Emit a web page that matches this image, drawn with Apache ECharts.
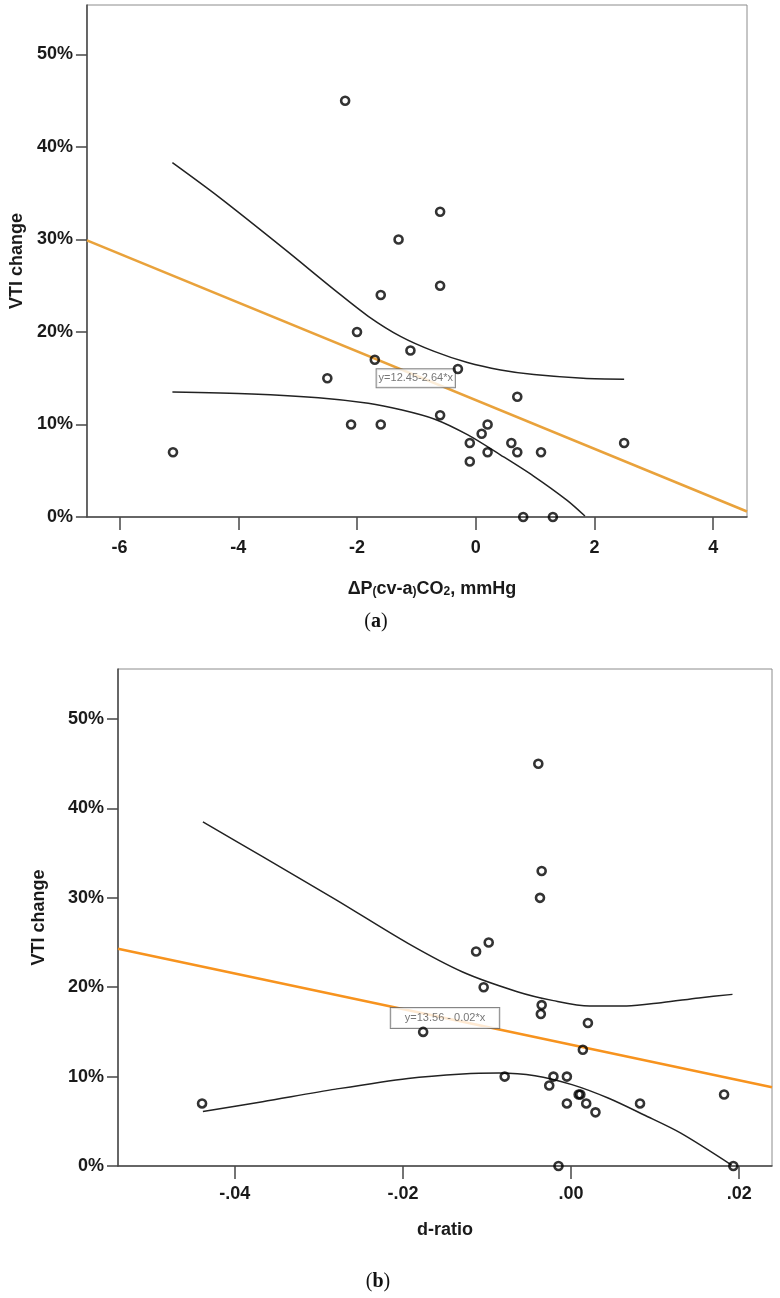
<!DOCTYPE html>
<html>
<head>
<meta charset="utf-8">
<script src="https://cdn.jsdelivr.net/npm/echarts@6/dist/echarts.min.js"></script>
<style>
html,body{margin:0;padding:0;background:#fff;}
#main{width:780px;height:1298px;}
</style>
</head>
<body>
<div id="main"></div>
<script>
// (a) 散点
var xA=[-2.2,-1.3,-1.6,-0.6,-0.6,-2.0,-1.7,-2.5,-2.1,-1.6,-5.1,-1.1,-0.3,0.7,-0.6,0.2,0.1,-0.1,0.6,0.2,0.7,1.1,-0.1,2.5,0.8,1.3];
var yA=[45,30,24,33,25,20,17,15,10,10,7,18,16,13,11,10,9,8,8,7,7,7,6,8,0,0];
// (a) 拟合线 + 置信带
var fitXA=[-6.55,4.57];
var fitYA=[29.9,0.6];
var upXA=[-5.11,-4.33,-3.21,-2.37,-1.81,-1.26,-0.70,-0.14,0.42,0.98,1.81,2.50];
var upYA=[38.3,34.6,28.9,24.5,21.7,19.5,17.9,16.7,15.9,15.4,15.0,14.9];
var loXA=[-5.11,-3.77,-2.65,-1.81,-1.26,-0.70,-0.14,0.42,0.98,1.54,1.84];
var loYA=[13.5,13.3,12.9,12.3,11.6,10.6,8.9,6.7,4.4,1.8,0.1];

// (b) 散点
var xB=[-0.0039,-0.0035,-0.0037,-0.0113,-0.0098,-0.0104,-0.0035,-0.0036,0.0020,-0.0176,0.0014,-0.0079,-0.0021,-0.0005,-0.0026,0.0009,0.0011,-0.0005,0.0018,0.0029,0.0082,0.0182,-0.0015,0.0193,-0.0439];
var yB=[45,33,30,24,25,20,18,17,16,15,13,10,10,10,9,8,8,7,7,6,7,8,0,0,7];
// (b) 拟合线 + 置信带
var fitXB=[-0.0539,0.0239];
var fitYB=[24.3,8.8];
var upXB=[-0.0438,-0.0367,-0.0280,-0.0194,-0.0129,-0.0064,-0.0021,0.0022,0.0066,0.0109,0.0152,0.0192];
var upYB=[38.5,34.6,29.8,24.9,21.7,19.5,18.5,17.9,17.9,18.3,18.8,19.2];
var loXB=[-0.0438,-0.0367,-0.0280,-0.0194,-0.0129,-0.0086,-0.0043,0.0001,0.0044,0.0087,0.0130,0.0191];
var loYB=[6.1,7.2,8.6,9.8,10.3,10.4,10.1,9.1,7.6,5.7,3.7,0.1];

// 刻度
var xTicksA=[-6,-4,-2,0,2,4];
var xTicksB=[-0.04,-0.02,0,0.02];
var yTicks=[0,10,20,30,40,50];

// 公式标签
var eqA={text:'y=12.45-2.64*x',x:-1.01,y:15.0};
var eqB={text:'y=13.56 - 0.02*x',x:-0.0150,y:16.55};

function zip(xs,ys){
	var out=[];
	for(var i=0;i<xs.length;i++){
		out.push([xs[i],ys[i]]);
	}
	return out;
}

var FONT='"Liberation Sans", Arial, sans-serif';
var AXIS_COLOR='#474747';

function yAxisCfg(idx,max,gap){
	return {
		gridIndex:idx,type:'value',min:0,max:max,
		name:'VTI change',nameLocation:'middle',nameGap:gap,nameRotate:90,
		nameTextStyle:{fontFamily:FONT,fontSize:18,fontWeight:'bold',color:'#1a1a1a'},
		splitLine:{show:false},
		axisLine:{show:true,onZero:false,lineStyle:{color:AXIS_COLOR,width:1.5}},
		axisTick:{show:true,customValues:yTicks,length:11,lineStyle:{color:AXIS_COLOR,width:1.5}},
		axisLabel:{customValues:yTicks,margin:14,fontFamily:FONT,fontSize:18,fontWeight:'bold',color:'#1a1a1a',
			padding:[5,0,0,0],
			formatter:function(v){return v+'%';}}
	};
}

function dotSeries(xi,data){
	return {
		type:'scatter',xAxisIndex:xi,yAxisIndex:xi,data:data,
		symbol:'circle',symbolSize:8,clip:false,z:5,
		itemStyle:{color:'rgba(255,255,255,0)',borderColor:'#000',borderWidth:2.6}
	};
}
function curveSeries(xi,data){
	return {
		type:'line',xAxisIndex:xi,yAxisIndex:xi,data:data,smooth:0.3,
		showSymbol:false,symbol:'none',z:3,
		lineStyle:{color:'#222',width:1.5}
	};
}
function fitSeries(xi,data,color){
	return {
		type:'line',xAxisIndex:xi,yAxisIndex:xi,data:data,
		showSymbol:false,symbol:'none',z:2,
		lineStyle:{color:color,width:2.6}
	};
}
function eqSeries(xi,eq,pad){
	return {
		type:'scatter',xAxisIndex:xi,yAxisIndex:xi,data:[[eq.x,eq.y]],
		symbolSize:0,z:4,silent:true,
		label:{show:true,position:'inside',formatter:eq.text,
			fontFamily:FONT,fontSize:11,color:'#555',
			backgroundColor:'#fff',borderColor:'#666',borderWidth:1,padding:pad}
	};
}

var myChart=echarts.init(document.getElementById('main'),null,{renderer:'canvas'});
var option={
	animation:false,
	backgroundColor:'#fff',
	grid:[
		{left:83,top:5,width:664,height:512,show:true,borderColor:'#8c8c8c',borderWidth:1,backgroundColor:'#fff'},
		{left:118,top:669,width:654,height:497,show:true,borderColor:'#8c8c8c',borderWidth:1,backgroundColor:'#fff'}
	],
	xAxis:[
		{
			gridIndex:0,type:'value',min:-6.55,max:4.57,
			name:'{n|ΔP}{s|(}{n|cv-a}{s|)}{n|CO}{s|2}{n|, mmHg}',nameLocation:'middle',nameGap:59,
			nameTextStyle:{padding:[0,0,0,30],rich:{
				n:{fontFamily:FONT,fontSize:18,fontWeight:'bold',color:'#1a1a1a',verticalAlign:'bottom',lineHeight:22},
				s:{fontFamily:FONT,fontSize:12,fontWeight:'bold',color:'#1a1a1a',verticalAlign:'bottom',lineHeight:12}
			}},
			splitLine:{show:false},
			axisLine:{show:true,onZero:false,lineStyle:{color:AXIS_COLOR,width:1.5}},
			axisTick:{show:true,customValues:xTicksA,length:13,lineStyle:{color:AXIS_COLOR,width:1.5}},
			axisLabel:{customValues:xTicksA,margin:22,fontFamily:FONT,fontSize:18,fontWeight:'bold',color:'#1a1a1a'}
		},
		{
			gridIndex:1,type:'value',min:-0.0539,max:0.0239,
			name:'d-ratio',nameLocation:'middle',nameGap:55,
			nameTextStyle:{fontFamily:FONT,fontSize:18,fontWeight:'bold',color:'#1a1a1a'},
			splitLine:{show:false},
			axisLine:{show:true,onZero:false,lineStyle:{color:AXIS_COLOR,width:1.5}},
			axisTick:{show:true,customValues:xTicksB,length:13,lineStyle:{color:AXIS_COLOR,width:1.5}},
			axisLabel:{customValues:xTicksB,margin:19,fontFamily:FONT,fontSize:18,fontWeight:'bold',color:'#1a1a1a',
				formatter:function(v){
					var s=Math.abs(v).toFixed(2).replace(/^0/,'');
					return (v<-1e-9?'-':'')+s;
				}}
		}
	],
	yAxis:[yAxisCfg(0,55.35,59),yAxisCfg(1,55.6,70)],
	graphic:[
		{type:'text',x:376,y:622,style:{text:'({b|a})',rich:{b:{fontWeight:'bold',fontFamily:'"Liberation Serif", serif',fontSize:20,fill:'#111'}},
			fontFamily:'"Liberation Serif", serif',fontSize:20,fill:'#111',align:'center',verticalAlign:'middle'}},
		{type:'text',x:378,y:1282,style:{text:'({b|b})',rich:{b:{fontWeight:'bold',fontFamily:'"Liberation Serif", serif',fontSize:20,fill:'#111'}},
			fontFamily:'"Liberation Serif", serif',fontSize:20,fill:'#111',align:'center',verticalAlign:'middle'}}
	],
	series:[
		fitSeries(0,zip(fitXA,fitYA),'#e9a23b'),
		curveSeries(0,zip(upXA,upYA)),
		curveSeries(0,zip(loXA,loYA)),
		eqSeries(0,eqA,[4,2,3,2]),
		dotSeries(0,zip(xA,yA)),
		fitSeries(1,zip(fitXB,fitYB),'#f7931e'),
		curveSeries(1,zip(upXB,upYB)),
		curveSeries(1,zip(loXB,loYB)),
		eqSeries(1,eqB,[5,14,4,14]),
		dotSeries(1,zip(xB,yB))
	]
};
myChart.setOption(option);
</script>
</body>
</html>
